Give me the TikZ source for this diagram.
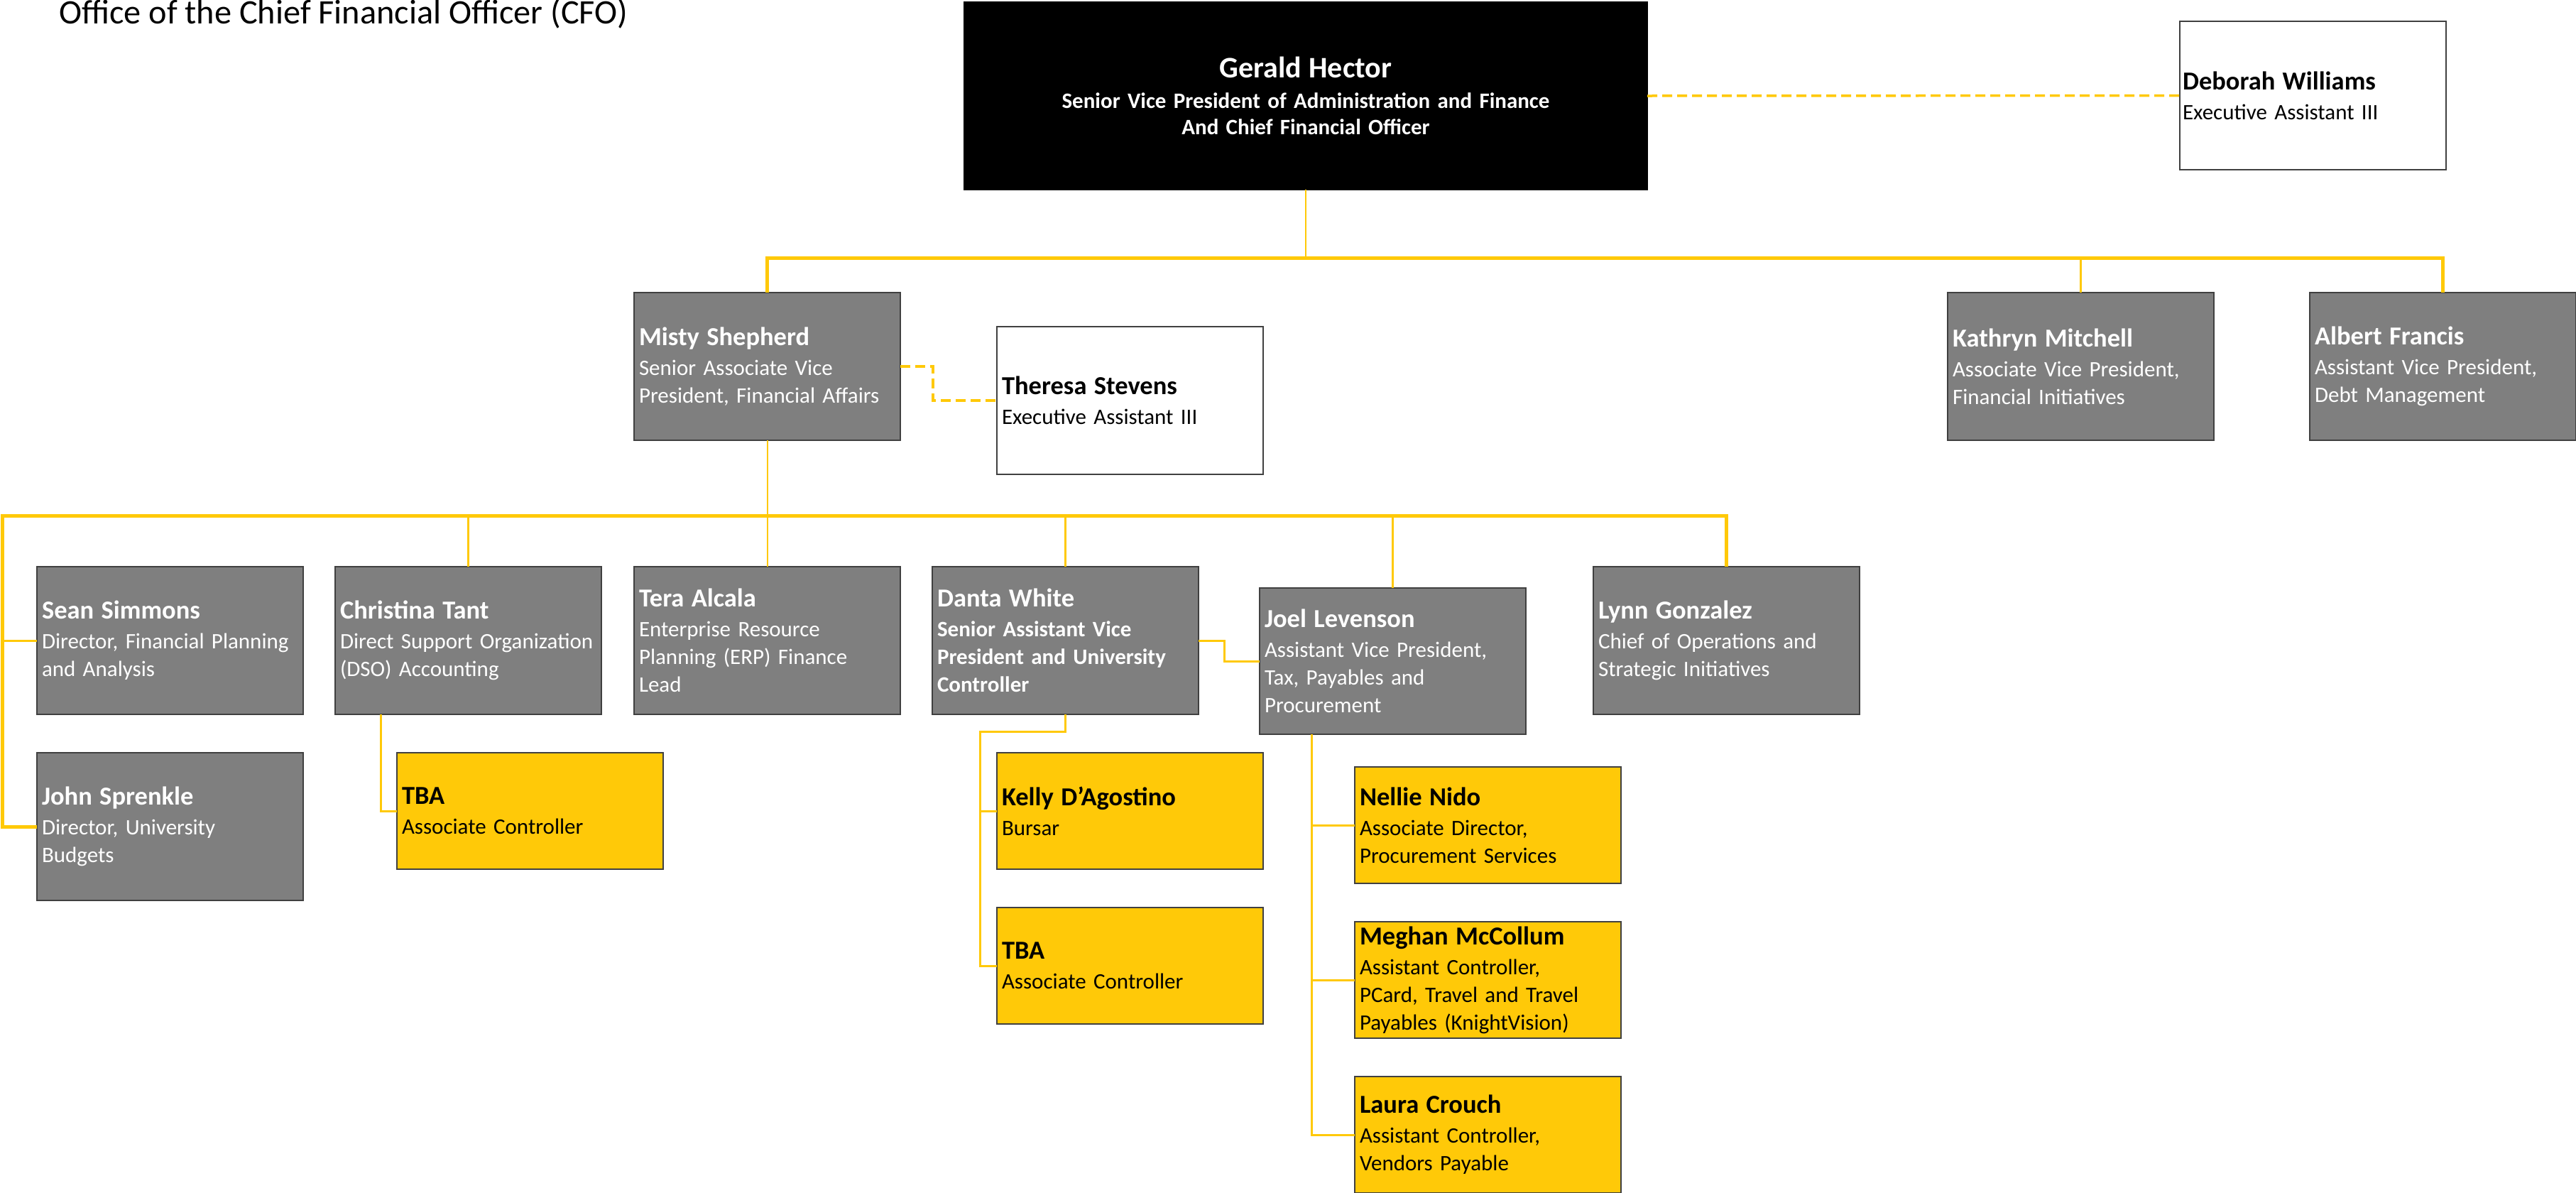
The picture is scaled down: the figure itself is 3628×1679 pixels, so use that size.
\documentclass[tikz,border=0pt]{standalone}
\usepackage{fontspec}
\setmainfont{Carlito}
\definecolor{gold}{RGB}{255,201,8}
\definecolor{boxgray}{RGB}{127,127,127}
\definecolor{edge}{RGB}{64,64,64}
\newcommand\pname[1]{{\fontsize{36.5}{39}\selectfont\bfseries #1}\\[3pt]}
\begin{document}
\begin{tikzpicture}[x=1pt,y=-1pt,
  base/.style={anchor=north west, draw=edge, line width=2pt, outer sep=0pt,
    inner xsep=7pt, inner ysep=0pt, minimum width=375pt, text width=361pt,
    align=left, font=\fontsize{31}{39}\selectfont},
  grey/.style={base, fill=boxgray, text=white, minimum height=208pt},
  whitebox/.style={base, fill=white, text=black, minimum height=208pt},
  goldbox/.style={base, fill=gold, text=black, minimum height=164pt},
  conn/.style={draw=gold, line width=3pt},
  bus/.style={draw=gold, line width=5pt},
  thinconn/.style={draw=gold, line width=2pt},
  dashconn/.style={draw=gold, line width=3.5pt, dash pattern=on 14pt off 7pt},
]
\useasboundingbox (0,0) rectangle (3628,1679);
\fill[white] (0,0) rectangle (3628,1679);

\node[anchor=base west, inner sep=0pt, font=\fontsize{48.3}{54}\selectfont] (title) at (83,33) {Office of the Chief Financial Officer (CFO)};

% top level
\node[anchor=north west, fill=black, draw=black, line width=2pt, outer sep=0pt,
  minimum width=962pt, minimum height=264pt, text width=940pt, inner xsep=11pt,
  align=center, text=white, font=\bfseries\fontsize{31}{37}\selectfont]
  (gerald) at (1358,3) {{\fontsize{42}{44}\selectfont Gerald Hector}\\[6pt]Senior Vice President of Administration and Finance\\And Chief Financial Officer};
\node[whitebox, inner xsep=4pt, text width=367pt, minimum height=209pt] (deborah) at (3070,30) {\pname{Deborah Williams}Executive Assistant III};

% second level
\node[grey] (misty) at (893,412) {\pname{Misty Shepherd}Senior Associate Vice\\President, Financial Affairs};
\node[whitebox] (theresa) at (1404,460) {\pname{Theresa Stevens}Executive Assistant III};
\node[grey] (kathryn) at (2743,412) {\pname{Kathryn Mitchell}Associate Vice President,\\Financial Initiatives};
\node[grey] (albert) at (3253,412) {\pname{Albert Francis}Assistant Vice President,\\Debt Management};

% third level
\node[grey] (sean) at (52,798) {\pname{Sean Simmons}Director, Financial Planning\\and Analysis};
\node[grey] (christina) at (472,798) {\pname{Christina Tant}Direct Support Organization\\(DSO) Accounting};
\node[grey] (tera) at (893,798) {\pname{Tera Alcala}Enterprise Resource\\Planning (ERP) Finance\\Lead};
\node[grey] (danta) at (1313,798) {\pname{Danta White}\textbf{Senior Assistant Vice}\\\textbf{President and University}\\\textbf{Controller}};
\node[grey, minimum height=206pt] (joel) at (1774,828) {\pname{Joel Levenson}Assistant Vice President,\\Tax, Payables and\\Procurement};
\node[grey] (lynn) at (2244,798) {\pname{Lynn Gonzalez}Chief of Operations and\\Strategic Initiatives};
\node[grey] (john) at (52,1060) {\pname{John Sprenkle}Director, University\\Budgets};

% fourth level
\node[goldbox] (tbaone) at (559,1060) {\pname{TBA}Associate Controller};
\node[goldbox] (kelly) at (1404,1060) {\pname{Kelly D’Agostino}Bursar};
\node[goldbox] (tbatwo) at (1404,1278) {\pname{TBA}Associate Controller};
\node[goldbox] (nellie) at (1908,1080) {\pname{Nellie Nido}Associate Director,\\Procurement Services};
\node[goldbox] (meghan) at (1908,1298) {\pname{Meghan McCollum}Assistant Controller,\\PCard, Travel and Travel\\Payables (KnightVision)};
\node[goldbox] (laura) at (1908,1516) {\pname{Laura Crouch}Assistant Controller,\\Vendors Payable};

% connectors, top
\coordinate (busA) at (0,363);
\draw[thinconn] (gerald.south) -- (gerald.south |- busA);
\draw[bus] (misty.north) -- (misty.north |- busA) -- (albert.north |- busA) -- (albert.north);
\draw[conn] (kathryn.north) -- (kathryn.north |- busA);
\draw[dashconn] (gerald.east) -- (deborah.west);
\draw[dashconn] (misty.east) -- ++(46,0) |- (theresa.west);

% connectors, middle
\coordinate (busB) at (3,726);
\draw[thinconn] (misty.south) -- (tera.north);
\draw[bus] (john.west) -| (busB) -- (lynn.north |- busB) -- (lynn.north);
\draw[conn] (sean.west) -- (sean.west -| busB);
\draw[conn] (christina.north) -- (christina.north |- busB);
\draw[conn] (danta.north) -- (danta.north |- busB);
\draw[conn] (joel.north) -- (joel.north |- busB);
\draw[conn] (danta.east) -- ++(36,0) |- (joel.west);

% connectors, lower
\draw[conn] ([xshift=-23pt]tbaone.west |- christina.south) |- (tbaone.west);
\draw[conn] (danta.south) -- ++(0,24) -| ([xshift=-24pt]tbatwo.west) -- (tbatwo.west);
\draw[conn] ([xshift=-24pt]kelly.west) -- (kelly.west);
\draw[conn] ([xshift=-61pt]laura.west |- joel.south) |- (laura.west);
\draw[conn] ([xshift=-61pt]nellie.west) -- (nellie.west);
\draw[conn] ([xshift=-61pt]meghan.west) -- (meghan.west);
\end{tikzpicture}
\end{document}
